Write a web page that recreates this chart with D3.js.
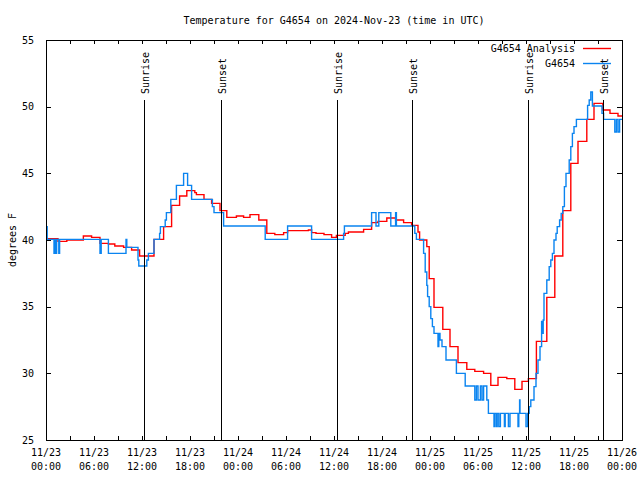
<!DOCTYPE html>
<html><head><meta charset="utf-8">
<script src="https://cdn.jsdelivr.net/npm/d3@7/dist/d3.min.js"></script>
<style>
body{margin:0;background:#fff}
text{font-family:"DejaVu Sans Mono","Liberation Mono",monospace;font-size:10px;fill:#000}
</style>
</head><body>
<svg id="chart" width="640" height="480"></svg>
<script>
const title = "Temperature for G4654 on 2024-Nov-23 (time in UTC)";
const yAxisLabel = "degrees F";
const seriesNames = ["G4654 Analysis", "G4654"];
const xTickHours = [0, 6, 12, 18, 24, 30, 36, 42, 48, 54, 60, 66, 72];
const xTickDates = ["11/23","11/23","11/23","11/23","11/24","11/24","11/24","11/24","11/25","11/25","11/25","11/25","11/26"];
const xTickTimes = ["00:00","06:00","12:00","18:00","00:00","06:00","12:00","18:00","00:00","06:00","12:00","18:00","00:00"];
const yTickValues = [25, 30, 35, 40, 45, 50, 55];
const sunLabels = ["Sunrise","Sunset","Sunrise","Sunset","Sunrise","Sunset"];
const sunHours = [12.29, 21.84, 36.34, 45.81, 60.29, 69.66];

// [hour since 11/23 00:00 UTC, temperature F]
const analysis = [[0,40.1],[1.5,39.9],[2.6,40.0],[4.67,40.3],[5.7,40.2],[6.75,39.75],[7.8,39.7],[8.6,39.55],[9.7,39.45],[10.7,39.25],[11.7,38.8],[13.5,40.05],[14.7,41.0],[15.7,42.6],[16.7,43.3],[17.6,43.7],[18.6,43.55],[18.8,43.4],[19.75,43.05],[20.7,42.75],[21.75,42.2],[22.6,41.7],[23.8,41.8],[24.7,41.7],[25.5,41.9],[26.6,41.5],[27.6,40.5],[28.6,40.4],[29.7,40.55],[30.2,40.7],[32.8,40.75],[33.2,40.55],[33.75,40.5],[34.75,40.4],[35.7,40.2],[36.3,40.35],[37.4,40.5],[37.8,40.6],[39.7,40.8],[40.7,41.3],[41.5,41.4],[42.6,41.65],[43.7,41.5],[44.7,41.3],[45.7,41.1],[46.5,40.6],[46.7,40.0],[47.6,39.5],[47.9,37.1],[48.5,34.95],[49.6,33.3],[50.5,32.0],[51.5,30.8],[52.6,30.3],[53.6,30.15],[54.7,30.0],[55.6,29.1],[56.5,29.7],[57.6,29.6],[58.6,28.8],[59.5,29.4],[60.3,29.6],[61.3,32.4],[62.6,35.7],[63.6,38.8],[64.6,42.2],[65.6,45.75],[66.5,47.4],[67.6,49.05],[68.5,50.25],[69.6,49.75],[70.5,49.5],[71.5,49.3],[72,49.3]];

const observed = [[0,41.0],[0.15,40.05],[1.0,39.0],[1.1,40.05],[1.2,39.0],[1.33,40.05],[1.6,39.0],[1.7,40.05],[6.75,39.0],[6.9,40.05],[7.8,39.0],[10.0,40.05],[10.1,39.45],[11.5,38.5],[11.6,38.05],[12.6,38.5],[12.8,39.0],[13.5,40.05],[14.2,40.5],[14.3,41.0],[14.9,41.5],[15.05,42.05],[15.6,43.05],[16.3,44.1],[17.2,45.0],[17.7,44.1],[18.2,43.05],[20.8,42.5],[21.0,42.05],[22.2,41.05],[27.4,40.05],[30.2,41.05],[33.2,40.05],[37.2,40.5],[37.3,41.05],[40.7,42.05],[41.25,41.05],[41.6,42.05],[43.1,41.05],[43.7,42.05],[43.8,41.05],[46.1,40.5],[46.3,40.05],[47.2,39.0],[47.4,37.6],[47.6,36.6],[47.7,35.75],[47.9,35.0],[48.1,34.1],[48.3,33.5],[48.5,33.0],[49.0,32.0],[49.1,33.0],[49.25,32.5],[49.5,32.0],[50.0,31.0],[51.3,30.0],[52.4,29.05],[53.6,28.0],[53.8,29.05],[54.0,28.0],[54.3,29.05],[54.5,28.0],[54.7,29.05],[55.1,28.0],[55.3,27.0],[56.0,26.0],[56.1,27.0],[56.3,26.0],[56.4,27.0],[56.6,26.0],[56.8,27.0],[57.3,26.0],[57.4,27.0],[57.8,26.0],[58.0,27.0],[59.0,26.0],[59.1,27.0],[59.2,28.0],[59.25,27.0],[60.0,26.0],[60.2,27.0],[60.4,27.5],[60.6,28.0],[61.0,29.0],[61.25,30.0],[61.5,31.0],[61.75,32.0],[61.95,33.9],[62.05,33.0],[62.15,34.0],[62.25,36.0],[62.6,37.0],[62.9,38.0],[63.1,38.5],[63.3,39.0],[63.5,40.0],[63.75,40.5],[63.9,41.0],[64.2,41.5],[64.4,42.0],[64.6,42.5],[64.8,44.0],[65.0,45.0],[65.4,46.0],[65.6,47.0],[65.8,48.0],[66.0,48.5],[66.3,49.05],[67.7,50.1],[67.9,50.5],[68.1,51.1],[68.3,50.05],[69.5,49.5],[69.7,49.05],[71.1,48.1],[71.3,49.05],[71.5,48.1],[71.7,49.05],[72,49.05]];

const seriesColors = ["#ff0000", "#0a84f0"];

const L = 46, R = 622, T = 40, B = 440;
const svg = d3.select("#chart");
svg.append("rect").attr("width",640).attr("height",480).attr("fill","#fff");

const x = d3.scaleLinear().domain([0,72]).range([L,R]);
const y = d3.scaleLinear().domain([25,55]).range([B,T]);

// title
svg.append("text").attr("x",(L+R)/2).attr("y",23.5).attr("text-anchor","middle").text(title);

// y label
svg.append("text").attr("transform",`translate(15.5,${(T+B)/2}) rotate(-90)`).attr("text-anchor","middle").text(yAxisLabel);

const g = svg.append("g");

// minor ticks every 3h on bottom and top
const minorHours = d3.range(0, 73, 3);
g.selectAll(".mb").data(minorHours).join("line")
  .attr("x1",d=>x(d)).attr("x2",d=>x(d)).attr("y1",B).attr("y2",B-4)
  .attr("stroke","#000").attr("shape-rendering","crispEdges");
g.selectAll(".mt").data(minorHours).join("line")
  .attr("x1",d=>x(d)).attr("x2",d=>x(d)).attr("y1",T).attr("y2",T+4)
  .attr("stroke","#000").attr("shape-rendering","crispEdges");

// y ticks left and right
const yl = d3.axisLeft(y).tickValues(yTickValues).tickSize(-5).tickPadding(12).tickFormat(d3.format("d"));
const yAx = g.append("g").attr("transform",`translate(${L},0)`).call(yl);
yAx.select(".domain").remove();
yAx.selectAll("text").attr("dy","0.32em").style("font-family","DejaVu Sans Mono").style("font-size","10px");
yAx.selectAll("line").attr("shape-rendering","crispEdges");
const yr = d3.axisRight(y).tickValues(yTickValues).tickSize(-5).tickFormat("");
const yAxR = g.append("g").attr("transform",`translate(${R},0)`).call(yr);
yAxR.select(".domain").remove();
yAxR.selectAll("line").attr("shape-rendering","crispEdges");

// x tick labels (two lines)
const xl = g.selectAll(".xl").data(xTickHours).join("text")
  .attr("x",d=>x(d)).attr("text-anchor","middle");
xl.append("tspan").attr("x",d=>x(d)).attr("y",455.5).text((d,i)=>xTickDates[i]);
xl.append("tspan").attr("x",d=>x(d)).attr("y",469.5).text((d,i)=>xTickTimes[i]);

// series
const line = d3.line().x(d=>x(d[0])).y(d=>y(d[1])).curve(d3.curveStepAfter);
svg.append("path").datum(analysis).attr("d",line).attr("fill","none")
  .attr("stroke",seriesColors[0]).attr("stroke-width",1.4);
svg.append("path").datum(observed).attr("d",line).attr("fill","none")
  .attr("stroke",seriesColors[1]).attr("stroke-width",1.4);

// sunrise / sunset lines
svg.selectAll(".sun").data(sunHours).join("line")
  .attr("x1",d=>Math.round(x(d))+0.5).attr("x2",d=>Math.round(x(d))+0.5)
  .attr("y1",y(50.5)).attr("y2",B).attr("stroke","#000").attr("stroke-width",1);
svg.selectAll(".sunt").data(sunHours).join("text")
  .attr("transform",d=>`translate(${Math.round(x(d))+4.5},94) rotate(-90)`)
  .attr("text-anchor","start").text((d,i)=>sunLabels[i]);

// legend
const legY = [48.5, 63.5];
seriesNames.forEach((n,i)=>{
  svg.append("text").attr("x",575).attr("y",legY[i]+3.5).attr("text-anchor","end").text(n);
  svg.append("line").attr("x1",583).attr("x2",611).attr("y1",legY[i]).attr("y2",legY[i])
    .attr("stroke",seriesColors[i]).attr("stroke-width",1.4);
});

// frame
svg.append("rect").attr("x",L+0.5).attr("y",T+0.5).attr("width",R-L).attr("height",B-T)
  .attr("fill","none").attr("stroke","#000").attr("stroke-width",1).attr("shape-rendering","crispEdges");
</script>
</body></html>
